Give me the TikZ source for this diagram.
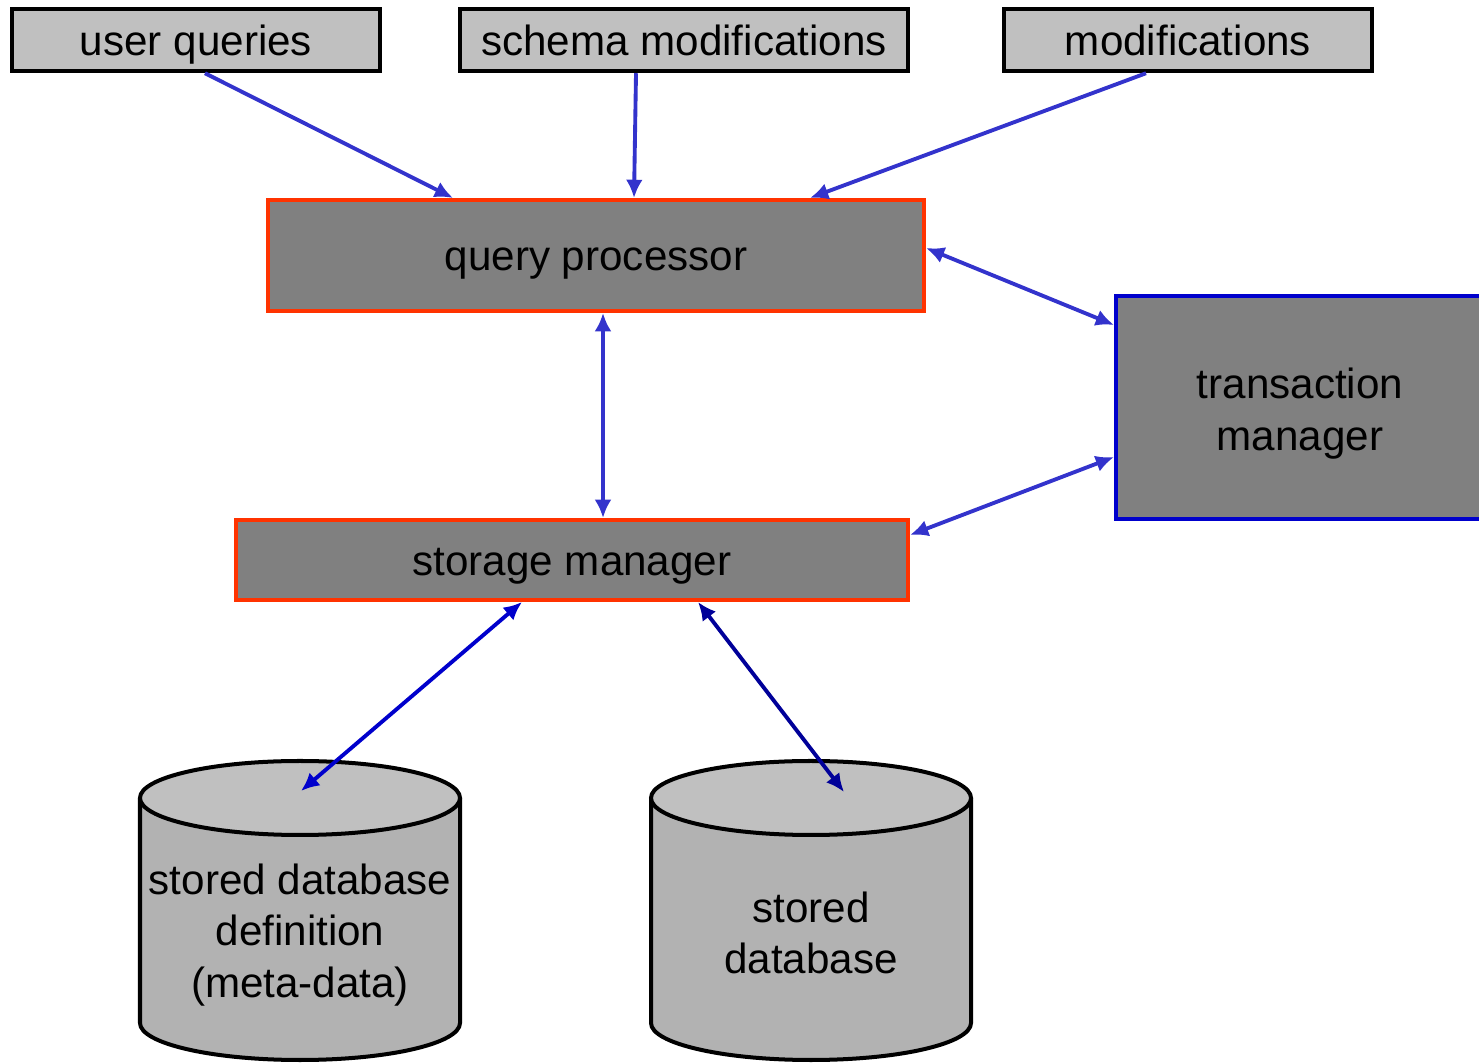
\documentclass[tikz,border=0pt]{standalone}
\usepackage{fontspec}
\setmainfont{Liberation Sans}
\usetikzlibrary{arrows.meta}
\usetikzlibrary{calc}

\definecolor{inputgray}{HTML}{C0C0C0}
\definecolor{modgray}{HTML}{808080}
\definecolor{modred}{HTML}{FF3300}
\definecolor{tmblue}{HTML}{0000CC}
\definecolor{linkblue}{HTML}{3333CC}
\definecolor{dbblue}{HTML}{0000CC}
\definecolor{dbnavy}{HTML}{000099}
\definecolor{dbtop}{HTML}{C0C0C0}
\definecolor{dbbody}{HTML}{B2B2B2}

\begin{document}
\begin{tikzpicture}[>={Latex[length=5.2pt,width=4.8pt]},
  every node/.style={font=\fontsize{12}{14.75}\selectfont},
  inputbox/.style={draw=black, fill=inputgray, line width=1.14pt, minimum height=0.625cm,
                   inner sep=0pt, text height=8.8pt, text depth=0pt},
  modbox/.style={draw=modred, fill=modgray, line width=1.14pt, inner sep=0pt,
                 text height=8.8pt, text depth=0pt},
  link/.style={linkblue, line width=1.1pt, <->}]
  \path[use as bounding box] (0, 0) rectangle (14.79, 10.63);

%%%%%%%%%%%% inputs
  \node[inputbox, minimum width=3.68cm] at (1.96, 10.23) (uq) {user queries};
  \node[inputbox, minimum width=4.48cm] at (6.84, 10.23) (schema) {schema modifications};
  \node[inputbox, minimum width=3.68cm] at (11.88, 10.23) (mods) {modifications};

%%%%%%%%%%%% modules
  \node[modbox, minimum width=6.56cm, minimum height=1.11cm] at (5.96, 8.075) (qp) {query processor};
  \node[modbox, minimum width=6.72cm, minimum height=0.80cm] at (5.72, 5.03) (sm) {storage manager};
  \node[draw=tmblue, fill=modgray, line width=1.14pt, inner sep=0pt,
        minimum width=3.68cm, minimum height=2.23cm] at (13.00, 6.555) (tm) {};
  \node[align=center] at ([yshift=-0.06cm]tm.center) (tmtext) {transaction\\manager};

%%%%%%%%%%%% stored data
  \foreach \cx in {3.00, 8.11} {
    \filldraw[fill=dbbody, line width=1.14pt] ({\cx-1.6}, 2.65) -- ({\cx-1.6}, 0.40)
      arc[start angle=180, end angle=360, x radius=1.6, y radius=0.37] -- ({\cx+1.6}, 2.65);
    \filldraw[fill=dbtop, line width=1.14pt] (\cx, 2.65) ellipse [x radius=1.6, y radius=0.37];
  }
  \node[align=center] at (3.00, 1.28) (dbdef) {stored database\\definition\\(meta-data)};
  \node[align=center] at (8.11, 1.30) (dbdata) {stored\\database};
  \coordinate (dbdefin) at (3.01, 2.72);
  \coordinate (dbdatain) at (8.44, 2.71);

%%%%%%%%%%%% links
  \draw[link, <-] ([xshift=1.87cm]qp.north west) -- ([xshift=0.09cm]uq.south);
  \draw[link, <-] ([xshift=3.68cm]qp.north west) -- ([xshift=-0.48cm]schema.south);
  \draw[link, <-] ([xshift=5.44cm]qp.north west) -- ([xshift=-0.42cm]mods.south);
  \draw[link] ([yshift=0.075cm]qp.east) -- ([yshift=-0.31cm]tm.north west);
  \draw[link] ([xshift=0.07cm]qp.south) -- ([xshift=0.07cm]qp.south |- sm.north);
  \draw[link] ([yshift=0.25cm]sm.east) -- ([yshift=0.64cm]tm.south west);
  \draw[link, dbblue] ([xshift=2.88cm]sm.south west) -- (dbdefin);
  \draw[link, dbnavy] ([xshift=4.64cm]sm.south west) -- (dbdatain);
\end{tikzpicture}
\end{document}
